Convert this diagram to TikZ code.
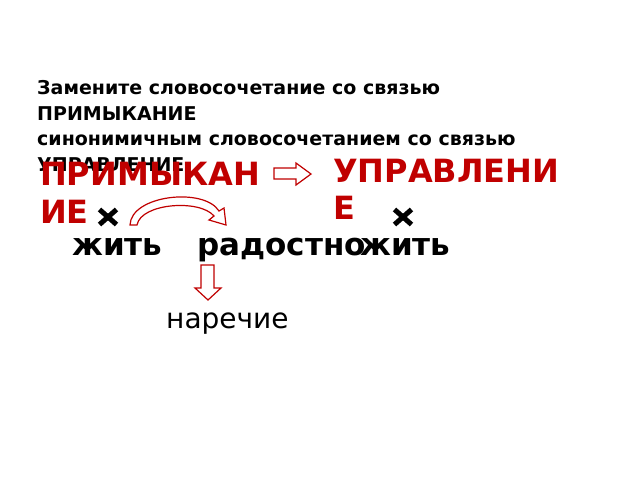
\documentclass[tikz,border=0pt]{standalone}
\usepackage{fontspec}
\setmainfont{DejaVu Sans}
\definecolor{dred}{HTML}{C00000}
\begin{document}
\begin{tikzpicture}[x=1pt,y=-1pt,
  title/.style={anchor=base west,inner sep=0pt,font=\fontsize{19}{22}\selectfont\bfseries},
  redword/.style={anchor=base west,inner sep=0pt,text=dred,font=\fontsize{32}{36}\selectfont\bfseries},
  word/.style={anchor=base west,inner sep=0pt,font=\fontsize{31}{34}\selectfont\bfseries},
  plain/.style={anchor=base west,inner sep=0pt,font=\fontsize{28}{30}\selectfont},
  blockarrow/.style={draw=dred,fill=white,line width=1.2pt,line join=miter},
  cross/.style={line width=5pt}]
\useasboundingbox (0,0) rectangle (640,480);
\node[title] (t1) at (37,94) {Замените словосочетание со связью};
\node[title] (t2) at (37,120) {ПРИМЫКАНИЕ};
\node[title] (t3) at (37,145) {синонимичным словосочетанием со связью};
\node[title] (t4) at (37,171) {УПРАВЛЕНИЕ};
\node[redword] (r1) at (40,185) {ПРИМЫКАН};
\node[redword] (r2) at (40,223) {ИЕ};
\node[redword] (u1) at (333,182) {УПРАВЛЕНИ};
\node[redword] (u2) at (333,219) {Е};
% right block arrow
\draw[blockarrow] (274,168) -- (296,168) -- (296,163) -- (311,174) -- (296,185) -- (296,179) -- (274,179) -- cycle;
% down block arrow
\draw[blockarrow] (201,265) -- (214,265) -- (214,288) -- (221,288) -- (208,300) -- (195,288) -- (201,288) -- cycle;
% curved arrow
\draw[blockarrow,line width=1.2pt] (130,225) .. controls (131,195) and (204,187) .. (219,211) -- (224,208) -- (226,225) -- (209,220) -- (214,216) .. controls (200,199) and (141,203) .. (137,225) -- cycle;
% crosses
\coordinate (c1) at (108,217);
\coordinate (c2) at (403,217);
\draw[cross] ([shift={(-8.5,-7.5)}]c1) -- ([shift={(8.5,7.5)}]c1) ([shift={(-8.5,7.5)}]c1) -- ([shift={(8.5,-7.5)}]c1);
\draw[cross] ([shift={(-8.5,-7.5)}]c2) -- ([shift={(8.5,7.5)}]c2) ([shift={(-8.5,7.5)}]c2) -- ([shift={(8.5,-7.5)}]c2);
\node[word] (w1) at (72,255) {жить};
\node[word] (w2) at (197,255) {радостно};
\node[word] (w3) at (360,255) {жить};
\node[plain] (n1) at (166,328) {наречие};
\end{tikzpicture}
\end{document}
